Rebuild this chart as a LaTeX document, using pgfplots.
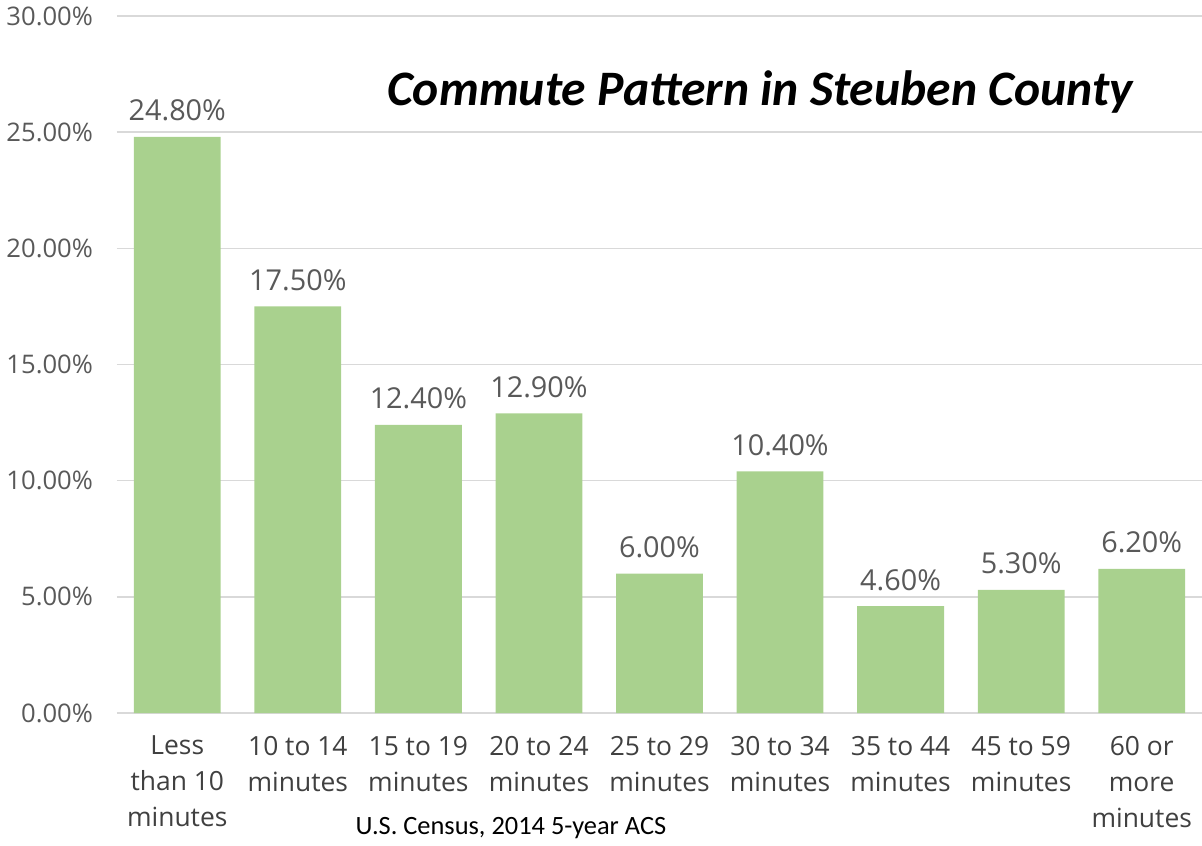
\documentclass[border=0pt]{standalone}
\usepackage{pgfplots}
\pgfplotsset{compat=1.18}
\usepackage{fontspec}
\setmainfont{Open Sans}
\newfontfamily\calibri{Carlito}
\definecolor{bargreen}{HTML}{A9D18E}
\definecolor{txtgray}{HTML}{595959}
\definecolor{catgray}{HTML}{404040}
\definecolor{gridgray}{HTML}{D9D9D9}
\begin{document}
\begin{tikzpicture}
\begin{axis}[
  name=ax,
  scale only axis,
  width=542.5pt, height=348.5pt,
  xmin=-0.5, xmax=8.5,
  ymin=0, ymax=30,
  ytick={0,5,10,15,20,25,30},
  xtick=data,
  xticklabels={{Less\\than 10\\minutes},{10 to 14\\minutes},{15 to 19\\minutes},{20 to 24\\minutes},{25 to 29\\minutes},{30 to 34\\minutes},{35 to 44\\minutes},{45 to 59\\minutes},{60 or\\more\\minutes}},
  xticklabel style={align=center, font=\fontsize{13.2}{18}\selectfont, text=catgray, anchor=north, yshift=-8pt},
  yticklabel style={font=\fontsize{12.8}{15}\selectfont, text=txtgray, xshift=-8.5pt},
  /pgf/number format/assume math mode=true,
  yticklabel={\pgfmathprintnumber[fixed,zerofill,precision=2]{\tick}\%},
  major tick length=0pt,
  axis line style={draw=none},
  ymajorgrids,
  grid style={gridgray, line width=0.8pt},
  ybar, bar width=0.72,
  clip=false,
  nodes near coords={\pgfmathprintnumber[fixed,zerofill,precision=2,assume math mode=true]{\pgfplotspointmeta}\%},
  every node near coord/.append style={font=\fontsize{14.4}{16}\selectfont, text=txtgray, anchor=base, inner sep=0pt, yshift=8pt},
]
\addplot[fill=bargreen, draw=none] coordinates {
(0,24.8) (1,17.5) (2,12.4) (3,12.9) (4,6.0) (5,10.4) (6,4.6) (7,5.3) (8,6.2)};
\node[font=\calibri\bfseries\itshape\fontsize{24.8}{28}\selectfont, text=black] at (rel axis cs:0.5926,0.891) {Commute Pattern in Steuben County};
\node[font=\calibri\fontsize{13.2}{15}\selectfont, text=black, anchor=center] at ([yshift=-57.5pt]rel axis cs:0.363,0) {U.S. Census, 2014 5-year ACS};
\end{axis}
\pgfresetboundingbox
\path[use as bounding box] ([xshift=-58.5pt,yshift=-66pt]ax.south west) rectangle ([yshift=8pt]ax.north east);
\end{tikzpicture}
\end{document}
